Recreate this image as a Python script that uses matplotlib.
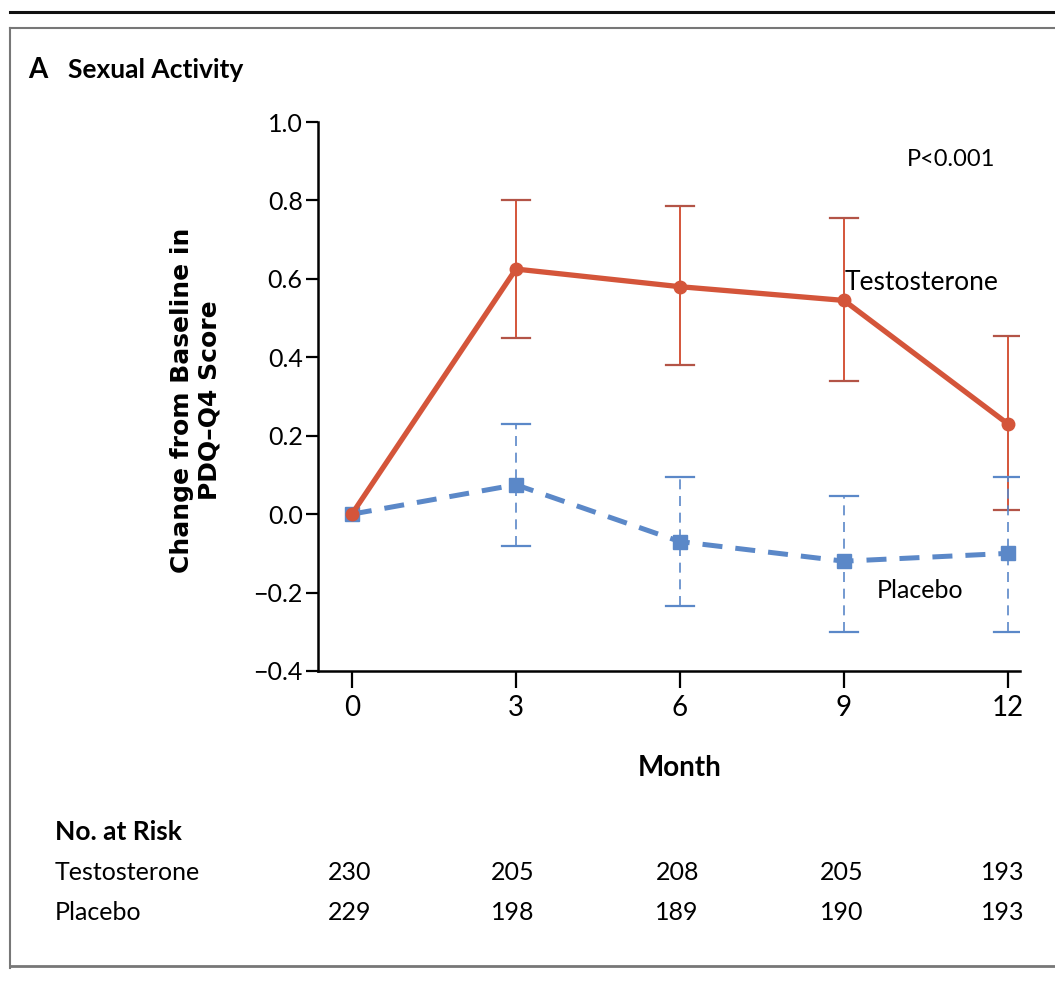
import matplotlib
matplotlib.use("Agg")
import matplotlib.pyplot as plt
from matplotlib.lines import Line2D
import matplotlib.transforms as mtransforms

plt.rcParams['font.family'] = ['Lato', 'DejaVu Sans']

months = [0, 3, 6, 9, 12]
testo_mean = [0.0, 0.625, 0.58, 0.545, 0.23]
testo_low = [0.0, 0.45, 0.38, 0.34, 0.01]
testo_high = [0.0, 0.80, 0.785, 0.755, 0.455]
plac_mean = [0.0, 0.075, -0.07, -0.12, -0.10]
plac_low = [0.0, -0.08, -0.235, -0.30, -0.30]
plac_high = [0.0, 0.23, 0.095, 0.045, 0.095]
yticks = [-0.4, -0.2, 0.0, 0.2, 0.4, 0.6, 0.8, 1.0]
ytick_labels = ['\u22120.4', '\u22120.2', '0.0', '0.2', '0.4', '0.6', '0.8', '1.0']
risk_testo = [230, 205, 208, 205, 193]
risk_plac = [229, 198, 189, 190, 193]

red = '#d4553a'
red_err = '#b35447'
blue = '#5b88c8'

W, H = 1055, 984
fig = plt.figure(figsize=(W / 100, H / 100), dpi=100)

def fx(px):
    return px / W

def fy(py):
    return 1 - py / H

ax = fig.add_axes([fx(318), fy(671), fx(1020) - fx(318), fy(122) - fy(671)])
ax.set_xlim(-0.62, 12.22)
ax.set_ylim(-0.4, 1.0)

# error bars
for i, m in enumerate(months):
    if m == 0:
        continue
    ax.plot([m, m], [testo_low[i], testo_high[i]], color=red, lw=1.4, zorder=2)
    for v in (testo_low[i], testo_high[i]):
        ax.plot([m - 0.25, m + 0.25], [v, v], color=red_err, lw=1.6, zorder=2)
    ax.plot([m, m], [plac_low[i], plac_high[i]], color=blue, lw=1.2,
            ls=(0, (6, 4)), zorder=2)
    for v in (plac_low[i], plac_high[i]):
        ax.plot([m - 0.25, m + 0.25], [v, v], color=blue, lw=1.6, zorder=2)

ax.plot(months, testo_mean, color=red, lw=3.8, marker='o', ms=9,
        solid_capstyle='round', zorder=4)
ax.plot(months, plac_mean, color=blue, lw=3.6, ls=(0, (4, 2.6)), marker='s',
        ms=10, zorder=3)

ax.spines['top'].set_visible(False)
ax.spines['right'].set_visible(False)
for s in ('left', 'bottom'):
    ax.spines[s].set_linewidth(1.8)
ax.set_yticks(yticks)
ax.set_yticklabels(ytick_labels)
ax.set_xticks(months)
ax.set_xticklabels([str(m) for m in months])
ax.tick_params(axis='y', direction='out', length=9, width=1.6,
               labelsize=18, pad=2)
ax.tick_params(axis='x', direction='out', length=12, width=1.6,
               labelsize=20, pad=5)

ax.text(10.96, 0.905, 'P<0.001', fontsize=17, ha='center', va='center')
ax.text(9.02, 0.59, 'Testosterone', fontsize=19, ha='left', va='center')
ax.text(9.6, -0.195, 'Placebo', fontsize=18, ha='left', va='center')

# labels
fig.text(fx(28), fy(70), 'A', fontsize=20, fontweight='bold', ha='left', va='center')
fig.text(fx(68), fy(70), 'Sexual Activity', fontsize=19, fontweight='bold',
         ha='left', va='center')
fig.text(fx(196), fy(400), 'Change from Baseline in\nPDQ\u2013Q4 Score', fontsize=18,
         fontweight='bold', rotation=90, ha='center', va='center',
         multialignment='center', linespacing=1.2, family='DejaVu Sans')
fig.text(fx(680), fy(768), 'Month', fontsize=20, fontweight='bold',
         ha='center', va='center')

# risk table
trans = mtransforms.blended_transform_factory(ax.transData, fig.transFigure)
fig.text(fx(55), fy(832), 'No. at Risk', fontsize=19, fontweight='bold',
         ha='left', va='center')
fig.text(fx(55), fy(872), 'Testosterone', fontsize=18, ha='left', va='center')
fig.text(fx(55), fy(912), 'Placebo', fontsize=18, ha='left', va='center')
for m, a, b in zip(months, risk_testo, risk_plac):
    xm = m - 0.05 if m < 12 else m - 0.1
    fig.text(xm, fy(872), str(a), fontsize=18, ha='center', va='center',
             transform=trans)
    fig.text(xm, fy(912), str(b), fontsize=18, ha='center', va='center',
             transform=trans)

# frame lines
fig.add_artist(Line2D([fx(10), 1], [fy(12), fy(12)], color='#111111', lw=2.2))
fig.add_artist(Line2D([fx(10), 1], [fy(28), fy(28)], color='#777777', lw=1.5))
fig.add_artist(Line2D([fx(10), fx(10)], [fy(28), fy(968)], color='#777777', lw=1.5))
fig.add_artist(Line2D([fx(10), 1], [fy(966), fy(966)], color='#777777', lw=2.0))

fig.savefig('out.png', dpi=100)
